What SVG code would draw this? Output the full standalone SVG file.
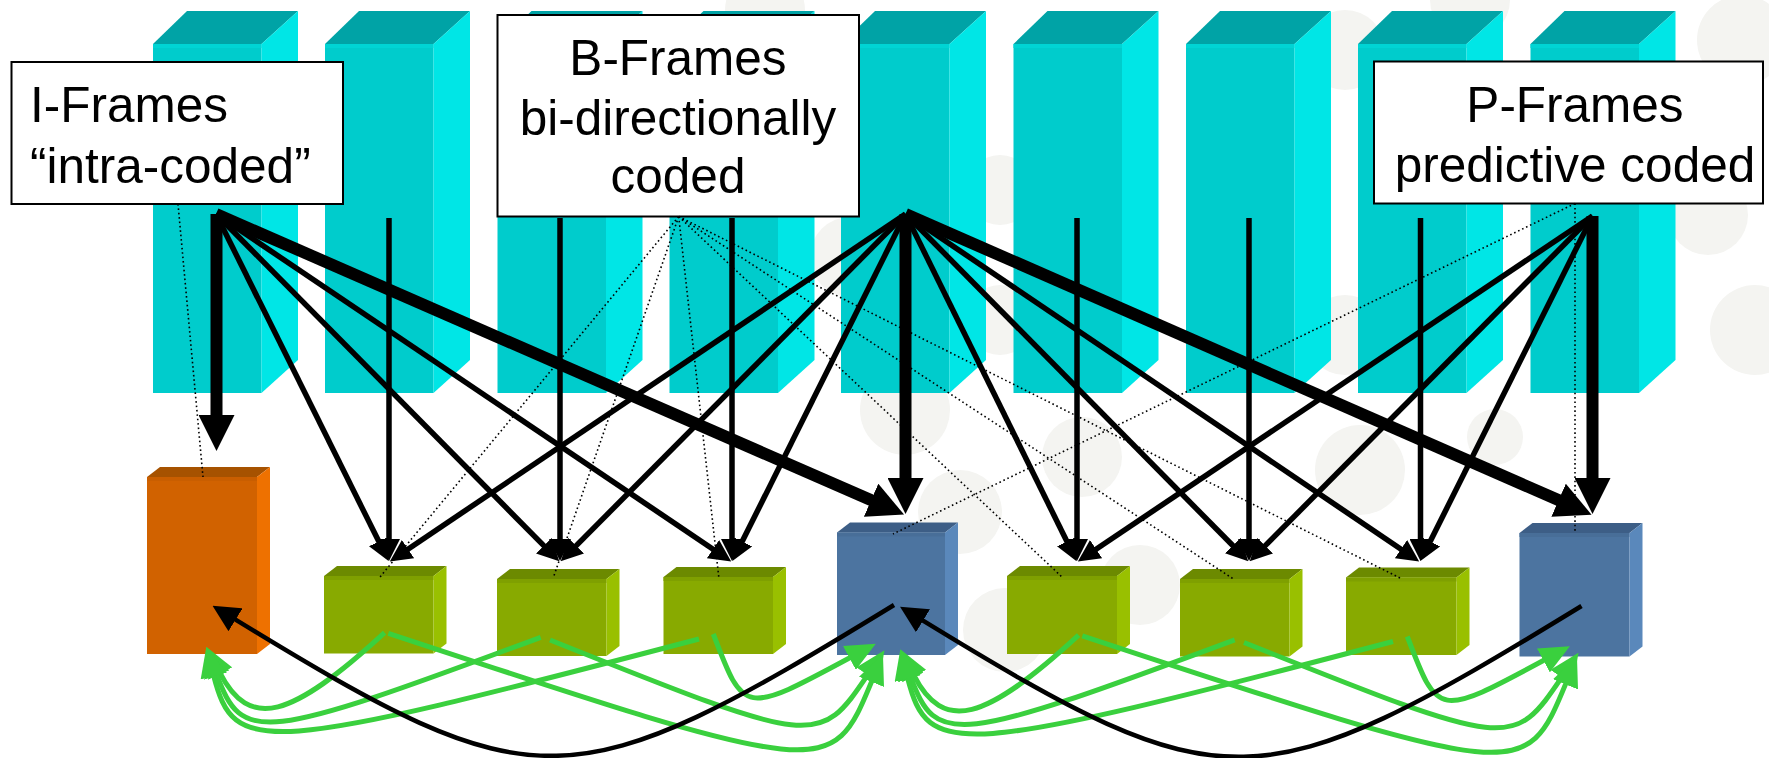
<svg xmlns="http://www.w3.org/2000/svg" xmlns:xlink="http://www.w3.org/1999/xlink" width="1769" height="758" viewBox="0 0 1769 758">
  <style>
    .bg { fill: #F4F4F1; }
    .c-top { fill: #00A3A6; }
    .c-front { fill: #00CCCC; }
    .c-band { fill: #00D4D4; }
    .c-side { fill: #00E6E6; }
    .o-top { fill: #A65200; } .o-front { fill: #D16200; } .o-band { fill: #C95E00; } .o-side { fill: #EE7100; }
    .g-top { fill: #6C8A00; } .g-front { fill: #88AA00; } .g-band { fill: #7FA000; } .g-side { fill: #99C000; }
    .b-top { fill: #3D5E86; } .b-front { fill: #4C74A0; } .b-band { fill: #486E98; } .b-side { fill: #5A88BB; }
    .label { fill: #FFFFFF; stroke: #000000; stroke-width: 2; }
    .txt { font-family: "Liberation Sans", Arial, sans-serif; font-size: 49.5px; fill: #000000; }
    .mid { text-anchor: middle; }
    .thin { stroke: #000000; stroke-width: 5.5; fill: none; marker-end: url(#ah); }
    .thick { stroke: #000000; stroke-width: 12; fill: none; marker-end: url(#ahT); }
    .dot { stroke: #000000; stroke-width: 1.6; stroke-dasharray: 1.6 2.8; fill: none; }
    .green { stroke: #3AD03E; stroke-width: 5; fill: none; marker-end: url(#ahG); }
    .curve { stroke: #000000; stroke-width: 4.5; fill: none; marker-end: url(#ahC); }
  </style>
  <defs>
    <marker id="ah" markerUnits="userSpaceOnUse" markerWidth="22" markerHeight="22" refX="1" refY="11" orient="auto">
      <path d="M0,0 L22,11 L0,22 z" fill="#000000"/>
    </marker>
    <marker id="ahT" markerUnits="userSpaceOnUse" markerWidth="36" markerHeight="36" refX="1" refY="18" orient="auto">
      <path d="M0,0 L36,18 L0,36 z" fill="#000000"/>
    </marker>
    <marker id="ahC" markerUnits="userSpaceOnUse" markerWidth="27" markerHeight="27" refX="1" refY="13.5" orient="auto">
      <path d="M0,0 L27,13.5 L0,27 z" fill="#000000"/>
    </marker>
    <marker id="ahG" markerUnits="userSpaceOnUse" markerWidth="30" markerHeight="27" refX="1" refY="13.5" orient="auto">
      <path d="M0,0 L30,13.5 L0,27 z" fill="#3AD03E"/>
    </marker>
    <!-- one raw video frame drawn as a tall prism, origin at its front-left corner -->
    <g id="column">
      <polygon class="c-top" points="0,44 34,11 145,11 108.5,44"/>
      <rect class="c-front" x="0" y="44" width="108.5" height="349"/>
      <rect class="c-band" x="0" y="44" width="108.5" height="4"/>
      <polygon class="c-side" points="108.5,44 145,11 145,360 108.5,393"/>
    </g>
    <!-- prediction arcs of one group of pictures -->
    <g id="gop-arcs">
      <path class="green" d="M384.6,632.7 C290.4,719.5 249.2,730.2 219.8,672.7"/>
      <path class="green" d="M540.7,637.3 C258.8,742.3 242.6,744.1 216.5,674.2"/>
      <path class="green" d="M699,639 C258.7,754.6 234.4,756.4 213.5,675.1"/>
      <path class="green" d="M713.3,634 C744,714.9 744,714.9 850.3,657.5"/>
      <path class="green" d="M550,640 C818.5,747.4 818.5,747.4 868.2,674.2"/>
      <path class="green" d="M388.3,633.3 C831.2,779.5 831.2,779.5 871.9,680.9"/>
    </g>
  </defs>

  <!-- soft background dots -->
  <g id="background">
    <circle class="bg" cx="1742" cy="40" r="45"/>
    <circle class="bg" cx="1708" cy="215" r="40"/>
    <circle class="bg" cx="1755" cy="330" r="45"/>
    <circle class="bg" cx="1360" cy="470" r="45"/>
    <circle class="bg" cx="1495" cy="437" r="28"/>
    <circle class="bg" cx="1345" cy="50" r="40"/>
    <circle class="bg" cx="1345" cy="335" r="40"/>
    <circle class="bg" cx="1470" cy="0" r="40"/>
    <circle class="bg" cx="1082" cy="457" r="40"/>
    <circle class="bg" cx="960" cy="512" r="42"/>
    <circle class="bg" cx="1005" cy="630" r="42"/>
    <circle class="bg" cx="1140" cy="585" r="40"/>
    <circle class="bg" cx="905" cy="410" r="45"/>
    <circle class="bg" cx="850" cy="257" r="40"/>
    <circle class="bg" cx="1000" cy="190" r="35"/>
    <circle class="bg" cx="1000" cy="320" r="35"/>
    <circle class="bg" cx="765" cy="10" r="40"/>
  </g>

  <!-- source frames -->
  <g id="frame-1"><use xlink:href="#column" href="#column" x="153" y="0"/></g>
  <g id="frame-2"><use xlink:href="#column" href="#column" x="325" y="0"/></g>
  <g id="frame-3"><use xlink:href="#column" href="#column" x="497.5" y="0"/></g>
  <g id="frame-4"><use xlink:href="#column" href="#column" x="669.5" y="0"/></g>
  <g id="frame-5"><use xlink:href="#column" href="#column" x="841" y="0"/></g>
  <g id="frame-6"><use xlink:href="#column" href="#column" x="1013.5" y="0"/></g>
  <g id="frame-7"><use xlink:href="#column" href="#column" x="1186" y="0"/></g>
  <g id="frame-8"><use xlink:href="#column" href="#column" x="1358" y="0"/></g>
  <g id="frame-9"><use xlink:href="#column" href="#column" x="1530.5" y="0"/></g>

  <!-- coded frames -->
  <g id="coded-i1">
    <polygon class="o-top" points="147,477 160,467 270,467 257,477"/>
    <rect class="o-front" x="147" y="477" width="110" height="177"/>
    <rect class="o-band" x="147" y="477" width="110" height="4"/>
    <polygon class="o-side" points="257,477 270,467 270,644 257,654"/>
  </g>
  <g id="coded-b1">
    <polygon class="g-top" points="324,576 337,566 446.5,566 433.5,576"/>
    <rect class="g-front" x="324" y="576" width="109.5" height="77.5"/>
    <rect class="g-band" x="324" y="576" width="109.5" height="4"/>
    <polygon class="g-side" points="433.5,576 446.5,566 446.5,643.5 433.5,653.5"/>
  </g>
  <g id="coded-b2">
    <polygon class="g-top" points="497,579 510,569 619.5,569 606.5,579"/>
    <rect class="g-front" x="497" y="579" width="109.5" height="77"/>
    <rect class="g-band" x="497" y="579" width="109.5" height="4"/>
    <polygon class="g-side" points="606.5,579 619.5,569 619.5,646 606.5,656"/>
  </g>
  <g id="coded-b3">
    <polygon class="g-top" points="663.5,577 676.5,567 786,567 773,577"/>
    <rect class="g-front" x="663.5" y="577" width="109.5" height="77"/>
    <rect class="g-band" x="663.5" y="577" width="109.5" height="4"/>
    <polygon class="g-side" points="773,577 786,567 786,644 773,654"/>
  </g>
  <g id="coded-p1">
    <polygon class="b-top" points="837,532.5 850,522.5 958,522.5 945,532.5"/>
    <rect class="b-front" x="837" y="532.5" width="108" height="122.5"/>
    <rect class="b-band" x="837" y="532.5" width="108" height="4"/>
    <polygon class="b-side" points="945,532.5 958,522.5 958,645 945,655"/>
  </g>
  <g id="coded-b4">
    <polygon class="g-top" points="1007,576 1020,566 1130,566 1117,576"/>
    <rect class="g-front" x="1007" y="576" width="110" height="78"/>
    <rect class="g-band" x="1007" y="576" width="110" height="4"/>
    <polygon class="g-side" points="1117,576 1130,566 1130,644 1117,654"/>
  </g>
  <g id="coded-b5">
    <polygon class="g-top" points="1180,579 1193,569 1302.5,569 1289.5,579"/>
    <rect class="g-front" x="1180" y="579" width="109.5" height="77.5"/>
    <rect class="g-band" x="1180" y="579" width="109.5" height="4"/>
    <polygon class="g-side" points="1289.5,579 1302.5,569 1302.5,646.5 1289.5,656.5"/>
  </g>
  <g id="coded-b6">
    <polygon class="g-top" points="1346,577.5 1359,567.5 1469.5,567.5 1456.5,577.5"/>
    <rect class="g-front" x="1346" y="577.5" width="110.5" height="77.5"/>
    <rect class="g-band" x="1346" y="577.5" width="110.5" height="4"/>
    <polygon class="g-side" points="1456.5,577.5 1469.5,567.5 1469.5,645 1456.5,655"/>
  </g>
  <g id="coded-p2">
    <polygon class="b-top" points="1519.5,533 1532.5,523 1642.5,523 1629.5,533"/>
    <rect class="b-front" x="1519.5" y="533" width="110" height="123.5"/>
    <rect class="b-band" x="1519.5" y="533" width="110" height="4"/>
    <polygon class="b-side" points="1629.5,533 1642.5,523 1642.5,646.5 1629.5,656.5"/>
  </g>

  <!-- captions -->
  <g id="label-i">
    <rect class="label" x="11.5" y="62" width="331.5" height="142"/>
    <text class="txt" x="30" y="122">I-Frames</text>
    <text class="txt" x="30" y="183">“intra-coded”</text>
  </g>
  <g id="label-b">
    <rect class="label" x="497.5" y="15" width="361.5" height="201.5"/>
    <text class="txt mid" x="678" y="75">B-Frames</text>
    <text class="txt mid" x="678" y="135">bi-directionally</text>
    <text class="txt mid" x="678" y="193">coded</text>
  </g>
  <g id="label-p">
    <rect class="label" x="1374" y="61.5" width="389" height="142"/>
    <text class="txt mid" x="1575" y="121.5">P-Frames</text>
    <text class="txt mid" x="1575" y="182">predictive coded</text>
  </g>

  <g id="connectors">
    <!-- caption pointers -->
    <path class="dot" d="M178,204 L203,477"/>
    <path class="dot" d="M678.7,216.5 L380,577"/>
    <path class="dot" d="M678.7,216.5 L553.5,577"/>
    <path class="dot" d="M678.7,216.5 L719,579"/>
    <path class="dot" d="M678.7,216.5 L1062,577"/>
    <path class="dot" d="M678.7,216.5 L1233.5,579"/>
    <path class="dot" d="M678.7,216.5 L1401,578.5"/>
    <path class="dot" d="M1575,203.5 L1575,532"/>
    <path class="dot" d="M1575,203.5 L893,534"/>

    <!-- direct encodes -->
    <path class="thin" d="M389,218 L389,540"/>
    <path class="thin" d="M560,218 L560,540"/>
    <path class="thin" d="M732,218 L732,540"/>
    <path class="thin" d="M1077,218 L1077,540"/>
    <path class="thin" d="M1249,218 L1249,540"/>
    <path class="thin" d="M1420.5,218 L1420.5,540"/>

    <!-- from frame 1 -->
    <path class="thin" d="M216,214 L379.2,542.3"/>
    <path class="thin" d="M216,214 L544.5,546.4"/>
    <path class="thin" d="M216,214 L713.8,549.7"/>
    <path class="thick" d="M216.5,214 L216.5,416"/>
    <path class="thick" d="M216,214 L872,500.6"/>

    <!-- from frame 5 -->
    <path class="thin" d="M905.5,214 L407.2,549.7"/>
    <path class="thin" d="M905.5,214 L575.5,546.4"/>
    <path class="thin" d="M905.5,214 L741.8,542.3"/>
    <path class="thin" d="M905.5,214 L1067.3,542.3"/>
    <path class="thin" d="M905.5,214 L1233.5,546.3"/>
    <path class="thin" d="M905.5,214 L1401.8,549.7"/>
    <path class="thick" d="M905.5,214 L905.5,479"/>
    <path class="thick" d="M905.5,214 L1559.5,500.6"/>

    <!-- from frame 9 -->
    <path class="thin" d="M1592.5,216 L1095.3,549.7"/>
    <path class="thin" d="M1592.5,216 L1264.5,546.4"/>
    <path class="thin" d="M1592.5,216 L1429.8,542.3"/>
    <path class="thick" d="M1592.5,216 L1592.5,479"/>

    <!-- B-frame references -->
    <use xlink:href="#gop-arcs" href="#gop-arcs"/>
    <use xlink:href="#gop-arcs" href="#gop-arcs" transform="translate(694,2.5)"/>

    <!-- P-frame references -->
    <path class="curve" d="M894,605 C570,803.3 537,804.1 234.7,619.2"/>
    <path class="curve" d="M1581.5,606 C1257.5,804.3 1224.5,805.1 922.2,620.2"/>
  </g>
</svg>
